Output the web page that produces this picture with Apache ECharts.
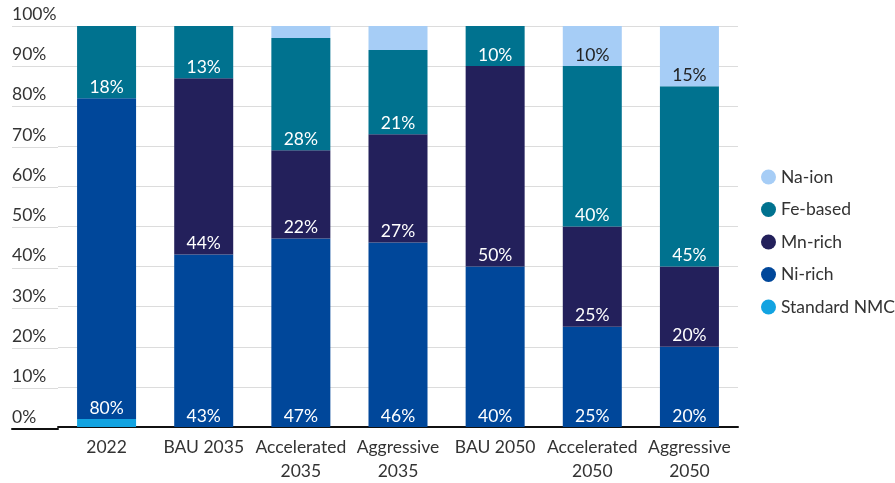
<!DOCTYPE html>
<html><head><meta charset="utf-8">
<script src="https://cdn.jsdelivr.net/npm/echarts@6/dist/echarts.min.js"></script>
<style>html,body{margin:0;padding:0;background:#fff}#c{width:895px;height:483px}</style>
</head><body><div id="c"></div>
<script>
const categories = ['2022','BAU 2035','Accelerated\n2035','Aggressive\n2035','BAU 2050','Accelerated\n2050','Aggressive\n2050'];
const standardNMC = [2, 0, 0, 0, 0, 0, 0];
const niRich = [80, 43, 47, 46, 40, 25, 20];
const mnRich = [0, 44, 22, 27, 50, 25, 20];
const feBased = [18, 13, 28, 21, 10, 40, 45];
const naIon = [0, 0, 3, 6, 0, 10, 15];
const yTicks = [0,10,20,30,40,50,60,70,80,90,100];

const FONT = 'Lato';
const FS = 17.5;
const colors = {
  'Standard NMC': '#12a3e1',
  'Ni-rich': '#00479a',
  'Mn-rich': '#23205b',
  'Fe-based': '#00728f',
  'Na-ion': '#a6cdf6'
};
function mk(name, data, labelColor) {
  return {
    name, type: 'bar', stack: 'total', data, barWidth: 59,
    xAxisIndex: 0, yAxisIndex: 0,
    itemStyle: { color: colors[name] },
    label: {
      show: true, position: 'insideBottom', distance: 2,
      color: labelColor, fontFamily: FONT, fontSize: FS,
      formatter: p => p.value >= 10 ? p.value + '%' : ''
    },
    emphasis: { disabled: true }
  };
}
const chart = echarts.init(document.getElementById('c'));
chart.setOption({
  animation: false,
  textStyle: { fontFamily: FONT },
  grid: [
    { left: 58, right: 157, top: 26, bottom: 54 },
    { left: 12, width: 46, top: 26, bottom: 54 }
  ],
  legend: {
    orient: 'vertical', left: 756, top: 163,
    icon: 'circle', itemWidth: 15, itemHeight: 15, itemGap: 14.5,
    data: ['Na-ion','Fe-based','Mn-rich','Ni-rich','Standard NMC'],
    textStyle: { fontFamily: FONT, fontSize: FS, color: '#333', padding: [8,0,0,0] }
  },
  xAxis: [
    { type: 'category', gridIndex: 0, data: categories,
      axisLine: { lineStyle: { color: '#111', width: 2 } },
      axisTick: { show: false },
      axisLabel: { color: '#333', fontFamily: FONT, fontSize: FS, margin: 8, lineHeight: 24, interval: 0 } },
    { type: 'category', gridIndex: 1, data: [''],
      axisLine: { lineStyle: { color: '#111', width: 2 } },
      axisTick: { show: false }, axisLabel: { show: false } }
  ],
  yAxis: [
    { type: 'value', gridIndex: 0, min: 0, max: 100, interval: 10,
      axisLabel: { show: false }, axisLine: { show: false }, axisTick: { show: false },
      splitLine: { lineStyle: { color: '#dcdcdc', width: 1 } } },
    { type: 'value', gridIndex: 1, min: 0, max: 100, interval: 10,
      axisLine: { show: false }, axisTick: { show: false },
      splitLine: { lineStyle: { color: '#dcdcdc', width: 1 } },
      axisLabel: { inside: true, margin: 0, align: 'left', verticalAlign: 'bottom',
        padding: [0,0,3,0], color: '#333', fontFamily: FONT, fontSize: FS,
        formatter: v => yTicks.includes(v) ? v + '%' : '' } }
  ],
  series: [
    mk('Standard NMC', standardNMC, '#fff'),
    mk('Ni-rich', niRich, '#fff'),
    mk('Mn-rich', mnRich, '#fff'),
    mk('Fe-based', feBased, '#fff'),
    mk('Na-ion', naIon, '#222')
  ]
});
</script></body></html>
